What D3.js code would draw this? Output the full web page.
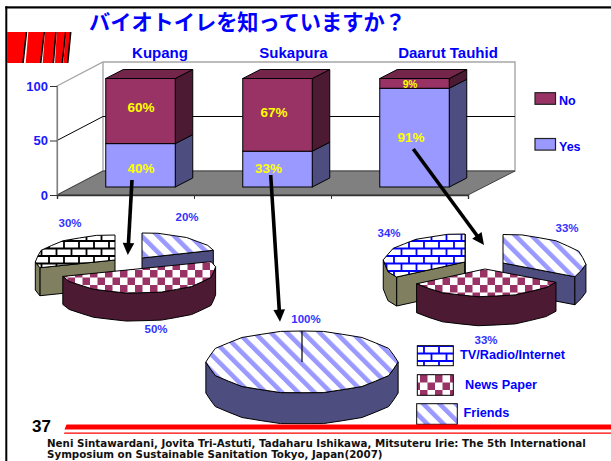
<!DOCTYPE html>
<html lang="ja">
<head>
<meta charset="utf-8">
<style>
  html, body { margin: 0; padding: 0; background: #fff; }
  svg { display: block; }
  text { font-family: "Liberation Sans", Arial, sans-serif; font-weight: bold; }
</style>
<script src="https://cdn.jsdelivr.net/npm/d3@7/dist/d3.min.js"></script>
</head>
<body>
<svg id="slide" width="611" height="461"></svg>
<script>
// Survey values
const titleText = "バイオトイレを知っていますか？";
const categories = ["Kupang", "Sukapura", "Daarut Tauhid"];
const yesValues = [40, 33, 91];
const noValues = [60, 67, 9];
const valueTicks = [0, 50, 100];
const mediaNames = ["TV/Radio/Internet", "News Paper", "Friends"];
const kupangShares = [30, 50, 20];
const sukapuraShares = [0, 0, 100];
const daarutShares = [34, 33, 33];
const pageNumber = "37";
const citationLines = [
  "Neni Sintawardani, Jovita Tri-Astuti, Tadaharu Ishikawa, Mitsuteru Irie: The 5th International",
  "Symposium on Sustainable Sanitation Tokyo, Japan(2007)"
];

const svg = d3.select("#slide");
const BLUE = "#0000ff", PIE_LABEL = "#3333ff";
const C = {
  yes: "#9999ff", yesSide: "#4d4d80",
  no: "#993366", noSide: "#4d1a33", noTop: "#732649",
  brickSide: "#808060", floor: "#808080", wall: "#a6a6a6"
};

// ---- fill patterns
const defs = svg.append("defs");
function stripePattern(id) {
  const p = defs.append("pattern").attr("id", id).attr("patternUnits", "userSpaceOnUse")
    .attr("width", 11.5).attr("height", 11.5).attr("patternTransform", "rotate(-45)");
  p.append("rect").attr("width", 11.5).attr("height", 11.5).attr("fill", "#fff");
  p.append("rect").attr("width", 4.6).attr("height", 11.5).attr("fill", C.yes);
}
function checkPattern(id) {
  const p = defs.append("pattern").attr("id", id).attr("patternUnits", "userSpaceOnUse")
    .attr("width", 15).attr("height", 15);
  p.append("rect").attr("width", 15).attr("height", 15).attr("fill", "#fff");
  p.append("rect").attr("width", 7.5).attr("height", 7.5).attr("fill", C.no);
  p.append("rect").attr("x", 7.5).attr("y", 7.5).attr("width", 7.5).attr("height", 7.5).attr("fill", C.no);
}
function brickPattern(id, color) {
  const p = defs.append("pattern").attr("id", id).attr("patternUnits", "userSpaceOnUse")
    .attr("width", 15).attr("height", 15);
  p.append("rect").attr("width", 15).attr("height", 15).attr("fill", "#fff");
  p.append("path").attr("fill", "none").attr("stroke", color).attr("stroke-width", 1.8)
    .attr("d", "M0 1H15M0 8.5H15M4 1V8.5M11.5 8.5V16");
}
stripePattern("stripes");
checkPattern("checks");
brickPattern("bricksBlack", "#000");
brickPattern("bricksBlue", BLUE);

// ---- slide furniture
svg.append("rect").attr("x", 5.3).attr("y", 6.3).attr("width", 606).attr("height", 2.2).attr("fill", "#000");
svg.append("rect").attr("x", 5.3).attr("y", 6.3).attr("width", 2).attr("height", 455).attr("fill", "#000");

const flagBands = [[7, 26.5, 7, 23], [28.3, 44.3, 25.7, 40.7], [45, 56, 42.7, 53.3], [56.7, 65.7, 55, 62.3], [66, 70.7, 63.3, 67.7]];
const flag = svg.append("g");
flagBands.forEach(([t0, t1, b0, b1]) => {
  flag.append("path").attr("fill", "#ff0000")
    .attr("d", `M${t0} 32L${t1} 32L${b1} 63L${b0} 63Z`);
  flag.append("path").attr("fill", "none").attr("stroke", "#000").attr("stroke-width", 1.6)
    .attr("d", `M${t1} 32L${b1} 63`);
});

svg.append("text").attr("x", 89).attr("y", 30)
  .style("font-family", '"Noto Sans CJK JP", sans-serif').style("font-size", "21.2px")
  .attr("fill", BLUE).text(titleText);

// ---- 3D stacked bars
const floorFront = 195, floorBack = 171, wallTop = 62;
const depthX = 46, depthY = 24;
const x = d3.scaleBand().domain(categories).range([57, 468]);
const yAxisScale = d3.scaleLinear().domain([0, 100]).range([floorFront, 86]);
const yBar = d3.scaleLinear().domain([0, 100]).range([187, 78.5]);
const backRight = 515, backLeft = x.range()[0] + depthX;

const chart = svg.append("g");
chart.append("path").attr("fill", "#fff").attr("stroke", C.wall).attr("stroke-width", 1.4)
  .attr("d", `M57 86L${backLeft} ${wallTop}H${backRight}V${floorBack}H${backLeft}L57 ${floorFront}Z`);
chart.append("path").attr("fill", "none").attr("stroke", C.wall).attr("stroke-width", 1.4)
  .attr("d", `M${backLeft} ${wallTop}V${floorBack}`);
chart.append("path").attr("fill", C.floor).attr("stroke", "#404040").attr("stroke-width", 1)
  .attr("d", `M57 ${floorFront}L${backLeft} ${floorBack}H${backRight}L468 ${floorFront}Z`);

// gridline on the side and back walls
const grid = yAxisScale(50);
chart.append("path").attr("fill", "none").attr("stroke", "#000").attr("stroke-width", 1)
  .attr("d", `M57 ${grid}L${backLeft} ${grid - depthY}H${backRight}`);

// value axis and category ticks
const yAxis = d3.axisLeft(yAxisScale).tickValues(valueTicks).tickSize(7).tickPadding(2);
const yG = chart.append("g").attr("transform", "translate(57,0)").call(yAxis);
yG.select(".domain").attr("stroke", "#808080").attr("stroke-width", 1.2);
yG.selectAll("line").attr("stroke", "#333");
yG.selectAll("text").attr("fill", "#1a1aff").style("font-size", "13px").style("font-family", '"Liberation Sans"');

const xEdges = d3.scaleLinear().domain([0, categories.length]).range(x.range());
const xAxis = d3.axisBottom(xEdges).tickValues(d3.range(categories.length + 1)).tickSize(4).tickFormat("");
const xG = chart.append("g").attr("transform", `translate(0,${floorFront})`).call(xAxis);
xG.select(".domain").attr("stroke", "#333").attr("stroke-width", 1.4);
xG.selectAll("line").attr("stroke", "#333");

const barW = 69.5, dx = 17.5, dy = 9;
const barLeft = c => x(c) + x.bandwidth() / 2 + 15 - barW / 2;

const rows = categories.map((c, i) => ({ c, yes: yesValues[i], no: noValues[i] }));
const bars = chart.selectAll(".bar").data(rows).join("g").attr("class", "bar");
const sideQuad = (l, v0, v1) =>
  `M${l + barW} ${yBar(v0)}L${l + barW + dx} ${yBar(v0) - dy}V${yBar(v1) - dy}L${l + barW} ${yBar(v1)}Z`;

bars.append("path").attr("fill", C.yesSide).attr("stroke", "#000")
  .attr("d", d => sideQuad(barLeft(d.c), 0, d.yes));
bars.append("path").attr("fill", C.noSide).attr("stroke", "#000")
  .attr("d", d => sideQuad(barLeft(d.c), d.yes, d.yes + d.no));
bars.append("path").attr("fill", C.noTop).attr("stroke", "#000")
  .attr("d", d => {
    const l = barLeft(d.c), t = yBar(d.yes + d.no);
    return `M${l} ${t}L${l + dx} ${t - dy}H${l + barW + dx}L${l + barW} ${t}Z`;
  });
bars.append("rect").attr("x", d => barLeft(d.c)).attr("width", barW)
  .attr("y", d => yBar(d.yes)).attr("height", d => yBar(0) - yBar(d.yes))
  .attr("fill", C.yes).attr("stroke", "#000");
bars.append("rect").attr("x", d => barLeft(d.c)).attr("width", barW)
  .attr("y", d => yBar(d.yes + d.no)).attr("height", d => yBar(d.yes) - yBar(d.yes + d.no))
  .attr("fill", C.no).attr("stroke", "#000");

// percentage captions, placed by hand where the leader arrows leave room
const pct = (v, cx, cy, size) => svg.append("text").attr("x", cx).attr("y", cy)
  .attr("text-anchor", "middle").attr("dominant-baseline", "central")
  .attr("fill", "#ffff00").style("font-size", size + "px").text(v + "%");
pct(noValues[0], 141, 107.5, 13.5);
pct(yesValues[0], 141, 168.5, 13.5);
pct(noValues[1], 274, 112.7, 13.5);
pct(yesValues[1], 268.5, 168.5, 13.5);
pct(noValues[2], 410, 84.8, 10.2);
pct(yesValues[2], 411, 137, 13.5);

const label = (t, lx, ly, size, fill, anchor) => svg.append("text").attr("x", lx).attr("y", ly)
  .attr("text-anchor", anchor || "start").attr("dominant-baseline", "central")
  .attr("fill", fill).style("font-size", size + "px").text(t);

const headerX = [160, 293.5, 448];
categories.forEach((c, i) => label(c, headerX[i], 52, 15, BLUE, "middle"));

// bar legend
const barLegend = [["No", C.no, 98.5, 100.5], ["Yes", C.yes, 144.3, 146.5]];
barLegend.forEach(([t, col, sy, ty]) => {
  svg.append("rect").attr("x", 535).attr("y", sy - 5.8).attr("width", 20.5).attr("height", 11.6)
    .attr("fill", col).attr("stroke", "#222").attr("stroke-width", 1.2);
  label(t, 559, ty, 12.5, BLUE);
});

// ---- exploded 3D pies
const pieGen = d3.pie().sort(null).value(d => d.share);

function rimPoints(p, a0, a1) {
  // faceted, slightly scalloped rim of a flattened circle
  const n = Math.max(2, Math.round((a1 - a0) / (Math.PI / 14)));
  return d3.range(n + 1).map(i => {
    const a = a0 + (a1 - a0) * i / n;
    const edge = i === 0 || i === n;
    const k = edge ? 1 : 1 + (i % 2 ? 0.012 : -0.010);
    return [p.x + p.rx * k * Math.sin(a), p.y - p.ry * k * Math.cos(a)];
  });
}
const polyPath = pts => "M" + pts.map(q => q.map(v => +v.toFixed(2)).join(" ")).join("L") + "Z";

function wall(g, run, depth, fill) {
  if (run.length < 2) return;
  const lower = run.slice().reverse().map(([a, b]) => [a, b + depth]);
  g.append("path").attr("d", polyPath(run.concat(lower)))
    .attr("fill", fill).attr("stroke", "#000").attr("stroke-width", 1).attr("stroke-linejoin", "round");
}

function drawPie(shares, layouts) {
  // pie order runs clockwise from twelve o'clock: friends, news paper, media
  const items = mediaNames.map((n, i) => ({ share: shares[i], key: i, style: layouts[i] })).reverse();
  const arcs = pieGen(items).filter(a => a.data.share > 0);
  const order = [2, 0, 1].filter(k => arcs.some(a => a.data.key === k));
  order.forEach(k => {
    const a = arcs.find(d => d.data.key === k);
    const s = a.data.style;
    const g = svg.append("g");
    const rim = rimPoints(s, a.startAngle, a.endAngle);
    const full = a.endAngle - a.startAngle >= 2 * Math.PI - 1e-6;
    // walls that face the viewer: the two cut faces and the front of the rim
    if (!full) {
      const apex = [s.x, s.y];
      if (rim[0][0] < apex[0]) wall(g, [apex, rim[0]], s.depth, s.side);
      if (rim[rim.length - 1][0] > apex[0]) wall(g, [rim[rim.length - 1], apex], s.depth, s.side);
    }
    let run = [];
    for (let i = 0; i < rim.length; i++) {
      const goesLeft = i + 1 < rim.length ? rim[i + 1][0] < rim[i][0] : false;
      if (goesLeft || (run.length && rim[i][0] < run[run.length - 1][0])) run.push(rim[i]);
      if (!goesLeft && run.length) { wall(g, run, s.depth, s.side); run = []; }
    }
    wall(g, run, s.depth, s.side);
    const top = full ? rim : [[s.x, s.y]].concat(rim);
    g.append("path").attr("d", polyPath(top)).attr("fill", `url(#${s.fill})`)
      .attr("stroke", "#000").attr("stroke-width", 1).attr("stroke-linejoin", "round");
    if (full) {
      g.append("line").attr("x1", s.x).attr("y1", s.y).attr("x2", s.x).attr("y2", s.y - s.ry)
        .attr("stroke", "#000").attr("stroke-width", 1.2);
    }
  });
}

drawPie(kupangShares, [
  { x: 115, y: 260, rx: 79, ry: 25, depth: 28, fill: "bricksBlack", side: C.brickSide },
  { x: 137, y: 269, rx: 78, ry: 24, depth: 28, fill: "checks", side: C.noSide },
  { x: 142, y: 258, rx: 75, ry: 25, depth: 28, fill: "stripes", side: C.yesSide }
]);
drawPie(sukapuraShares, [
  null, null,
  { x: 302, y: 362, rx: 95, ry: 31, depth: 31, fill: "stripes", side: C.yesSide }
]);
drawPie(daarutShares, [
  { x: 465, y: 262, rx: 81, ry: 28, depth: 29, fill: "bricksBlue", side: C.brickSide },
  { x: 485, y: 269, rx: 81, ry: 27.5, depth: 29, fill: "checks", side: C.noSide },
  { x: 503, y: 263, rx: 82, ry: 28.5, depth: 28, fill: "stripes", side: C.yesSide }
]);

// pie captions
const pieCaptions = [
  [kupangShares[0], 70, 223], [kupangShares[2], 187, 217], [kupangShares[1], 156, 329],
  [sukapuraShares[2], 306, 319],
  [daarutShares[0], 389, 233], [daarutShares[2], 567, 228], [daarutShares[1], 486, 340]
];
pieCaptions.forEach(([v, cx, cy]) => label(v + "%", cx, cy, 11.5, PIE_LABEL, "middle"));

// leader arrows from the "Yes" segments to their pies
const leaders = [
  [132, 180, 127.8, 255],
  [270.7, 175, 280, 321.7],
  [413.3, 149, 484, 245]
];
leaders.forEach(([x1, y1, x2, y2]) => {
  const len = Math.hypot(x2 - x1, y2 - y1), t = (len - 10) / len;
  svg.append("line").attr("x1", x1).attr("y1", y1)
    .attr("x2", x1 + (x2 - x1) * t).attr("y2", y1 + (y2 - y1) * t)
    .attr("stroke", "#000").attr("stroke-width", 3.6);
  const ang = Math.atan2(y2 - y1, x2 - x1) * 180 / Math.PI;
  svg.append("path").attr("d", "M0 0L-12 -5.8L-12 5.8Z").attr("fill", "#000")
    .attr("transform", `translate(${x2},${y2}) rotate(${ang})`);
});

// media legend
const mediaLegend = [
  { fill: "bricksBlue", x: 417.3, y: 345.7, w: 36, h: 20, tx: 460, ty: 355 },
  { fill: "checks", x: 417.3, y: 374.7, w: 36, h: 20.6, tx: 465, ty: 384.5 },
  { fill: "stripes", x: 416.7, y: 403.7, w: 40.6, h: 20.6, tx: 463.5, ty: 412.5 }
];
mediaLegend.forEach((m, i) => {
  svg.append("rect").attr("x", m.x).attr("y", m.y).attr("width", m.w).attr("height", m.h)
    .attr("fill", `url(#${m.fill})`).attr("stroke", "#000").attr("stroke-width", 1);
  label(mediaNames[i], m.tx, m.ty, 12.7, BLUE);
});

// footer rule, page number and citation
svg.append("path").attr("fill", "#ff0000").attr("d", "M66.5 424.6H611V429.6H64.5Z");
svg.append("path").attr("fill", "#ff0000").attr("d", "M64.3 432.4H611V433.7H64Z");
label(pageNumber, 32, 426, 17, "#000");
citationLines.forEach((line, i) => {
  svg.append("text").attr("x", 47).attr("y", 443 + i * 11).attr("dominant-baseline", "central")
    .style("font-family", '"DejaVu Sans"').style("font-size", "10.3px").attr("fill", "#111").text(line);
});
</script>
</body>
</html>
